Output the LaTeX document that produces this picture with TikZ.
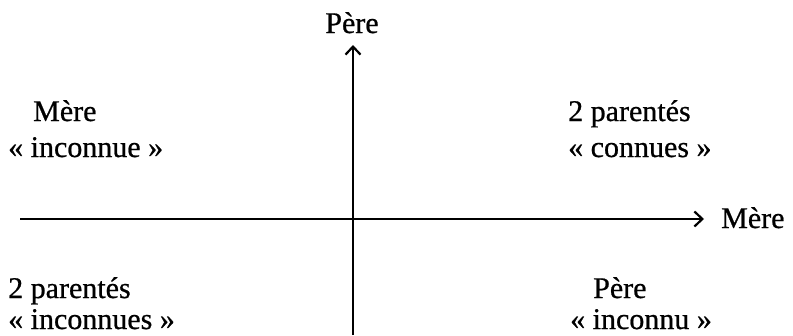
\documentclass[tikz,border=0pt]{standalone}
\usepackage{fontspec}
\setmainfont{Liberation Serif}
\newfontfamily\lblfont{Liberation Serif}[FakeBold=0.7]
\usetikzlibrary{arrows.meta}
\begin{document}
\begin{tikzpicture}[x=1pt,y=-1pt,
  lbl/.style={inner sep=0pt,font=\lblfont\fontsize{30}{36}\selectfont},
  axis/.style={line width=2.2pt,-{Straight Barb[length=8pt,width=15pt,line width=2.2pt]}}]
\useasboundingbox (0,0) rectangle (793,335);
\coordinate (vbot) at (353,335);
\coordinate (vtop) at (353,45);
\coordinate (hl) at (20,219);
\coordinate (hr) at (704,219);
\draw[axis] (vbot) -- (vtop);
\draw[axis] (hl) -- (hr);
\node[lbl,anchor=base] (pere) at (352,33) {Père};
\node[lbl,anchor=base west] (mereR) at (721,228) {Mère};
\node[lbl,anchor=base west] (m1) at (33,121) {Mère};
\node[lbl,anchor=base west] (m2) at (8,157) {« inconnue »};
\node[lbl,anchor=base west] (c1) at (568,121) {2 parentés};
\node[lbl,anchor=base west] (c2) at (568,157) {« connues »};
\node[lbl,anchor=base west] (b1) at (8,298) {2 parentés};
\node[lbl,anchor=base west] (b2) at (8,329) {« inconnues »};
\node[lbl,anchor=base west] (p1) at (593,298) {Père};
\node[lbl,anchor=base west] (p2) at (570,329) {« inconnu »};
\end{tikzpicture}
\end{document}
